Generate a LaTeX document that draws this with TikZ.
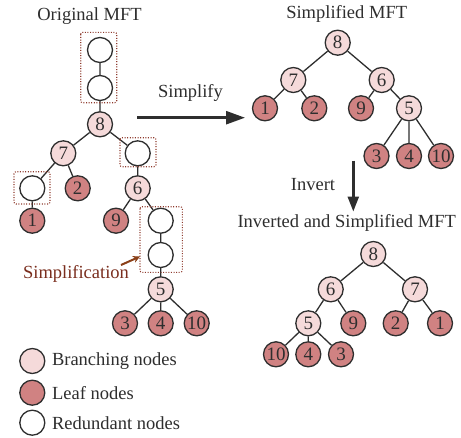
\documentclass[tikz,border=0pt]{standalone}
\usepackage{fontspec}
\setmainfont{Liberation Serif}
\usetikzlibrary{arrows.meta}
\definecolor{txt}{HTML}{2E2E2E}
\definecolor{branchfill}{HTML}{F5DADA}
\definecolor{leaffill}{HTML}{D08282}
\definecolor{boxcol}{HTML}{8E3A2C}
\definecolor{simpcol}{HTML}{7A2E1E}
\definecolor{arrcol}{HTML}{8B4018}
\tikzset{
  nd/.style={circle,draw=txt,line width=1.3pt,minimum size=25pt,inner sep=0pt,text=txt,font=\fontsize{19}{19}\selectfont},
  br/.style={nd,fill=branchfill},
  lf/.style={nd,fill=leaffill},
  rd/.style={nd,fill=white},
  ed/.style={draw=txt,line width=1.3pt},
  rbox/.style={draw=boxcol,dash pattern=on 1pt off 1.6pt,line width=1.1pt,rounded corners=2pt},
  ttl/.style={text=txt,font=\fontsize{18.5}{18.5}\selectfont},
  bigarrow/.style={draw=txt,line width=2.6pt,-{Triangle[length=19pt,width=13pt]}},
  downarrow/.style={draw=txt,line width=2.4pt,-{Triangle[length=15pt,width=11pt]}},
}
\begin{document}
\begin{tikzpicture}[x=1pt,y=-1pt]
\useasboundingbox (0,0) rectangle (461,437);
% ---- Original MFT ----
\node[ttl] (t1) at (89.5,16) {Original MFT};
\node[rd] (r1) at (100,50) {};
\node[rd] (r2) at (100,88) {};
\node[br] (o8) at (100,124.3) {8};
\node[br] (o7) at (63.3,153.3) {7};
\node[rd] (r3) at (137.7,153.3) {};
\node[rd] (r4) at (32.3,188.3) {};
\node[lf] (o2) at (77.7,188.3) {2};
\node[br] (o6) at (137.7,188.3) {6};
\node[lf] (o1) at (32.3,220.7) {1};
\node[lf] (o9) at (116,220.7) {9};
\node[rd] (r5) at (160.7,220.7) {};
\node[rd] (r6) at (160.7,255) {};
\node[br] (o5) at (160.7,289.3) {5};
\node[lf] (o3) at (125,323.3) {3};
\node[lf] (o4) at (160.7,323.3) {4};
\node[lf] (o10) at (196.7,323.3) {10};
\path[ed] (r1)--(r2) (r2)--(o8) (o8)--(o7) (o8)--(r3) (o7)--(r4) (o7)--(o2)
  (r4)--(o1) (r3)--(o6) (o6)--(o9) (o6)--(r5) (r5)--(r6) (r6)--(o5)
  (o5)--(o3) (o5)--(o4) (o5)--(o10);
\draw[rbox] (80.7,32.3) rectangle (116.7,102.7);
\draw[rbox] (120,137.7) rectangle (156,166.7);
\draw[rbox] (14,171.7) rectangle (50,204);
\draw[rbox] (140,206.7) rectangle (182.3,272.3);
\node[text=simpcol,font=\fontsize{18.5}{18.5}\selectfont] (simp) at (76,273.5) {Simplification};
\coordinate (sa) at (121,265);
\coordinate (sb) at (140,256.5);
\draw[arrcol,line width=2pt,-{Stealth[length=7pt,width=7pt]}] (sa)--(sb);
% ---- legend ----
\node[br] (l1) at (32.3,361) {};
\node[lf] (l2) at (32.3,392.7) {};
\node[rd] (l3) at (32.3,422.7) {};
\node[ttl,anchor=west] at (48.5,361) {Branching nodes};
\node[ttl,anchor=west] at (48.5,392.7) {Leaf nodes};
\node[ttl,anchor=west] at (48.5,422.7) {Redundant nodes};
% ---- Simplify arrow ----
\node[ttl] (simplify) at (190.5,92.5) {Simplify};
\coordinate (a1) at (137.3,117.7);
\coordinate (a2) at (245,117.7);
\draw[bigarrow] (a1)--(a2);
% ---- Simplified MFT ----
\node[ttl] (t2) at (346.7,14) {Simplified MFT};
\node[br] (s8) at (337.7,42.7) {8};
\node[br] (s7) at (293.3,80) {7};
\node[br] (s6) at (381.7,80) {6};
\node[lf] (s1) at (265,108.3) {1};
\node[lf] (s2) at (314.3,108.3) {2};
\node[lf] (s9) at (361,108.3) {9};
\node[br] (s5) at (409,108.3) {5};
\node[lf] (s3) at (376.5,156) {3};
\node[lf] (s4) at (409,156) {4};
\node[lf] (s10) at (441,156) {10};
\path[ed] (s8)--(s7) (s8)--(s6) (s7)--(s1) (s7)--(s2) (s6)--(s9) (s6)--(s5)
  (s5)--(s3) (s5)--(s4) (s5)--(s10);
% ---- Invert arrow ----
\node[ttl] (invert) at (313,184.5) {Invert};
\coordinate (b1) at (353.3,160.5);
\coordinate (b2) at (353.3,211.5);
\draw[downarrow] (b1)--(b2);
% ---- Inverted and Simplified MFT ----
\node[ttl] (t3) at (346.7,223) {Inverted and Simplified MFT};
\node[br] (i8) at (373.3,254) {8};
\node[br] (i6) at (330.7,289.3) {6};
\node[br] (i7) at (415,289.3) {7};
\node[br] (i5) at (308.3,323.3) {5};
\node[lf] (i9) at (353.3,323.3) {9};
\node[lf] (i2) at (395.7,323.3) {2};
\node[lf] (i1) at (440,323.3) {1};
\node[lf] (i10) at (276,354.3) {10};
\node[lf] (i4) at (308.3,354.3) {4};
\node[lf] (i3) at (341,354.3) {3};
\path[ed] (i8)--(i6) (i8)--(i7) (i6)--(i5) (i6)--(i9) (i7)--(i2) (i7)--(i1)
  (i5)--(i10) (i5)--(i4) (i5)--(i3);
\end{tikzpicture}
\end{document}
